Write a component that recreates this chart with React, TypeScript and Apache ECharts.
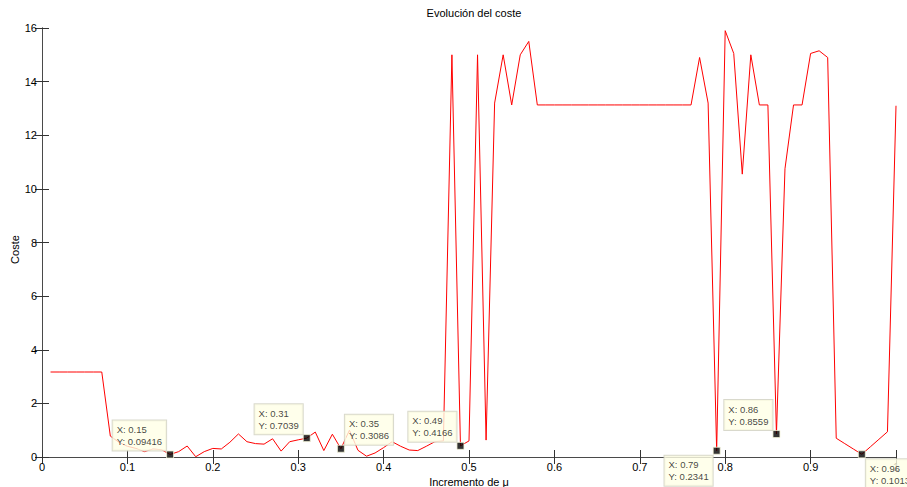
import { useEffect, useRef } from "react";
import * as echarts from "echarts";

// Step of μ (x) and resulting cost (y)
const incrementoMu = [
  0.01, 0.02, 0.03, 0.04, 0.05, 0.06, 0.07, 0.08, 0.09, 0.1,
  0.11, 0.12, 0.13, 0.14, 0.15, 0.16, 0.17, 0.18, 0.19, 0.2,
  0.21, 0.22, 0.23, 0.24, 0.25, 0.26, 0.27, 0.28, 0.29, 0.3,
  0.31, 0.32, 0.33, 0.34, 0.35, 0.36, 0.37, 0.38, 0.39, 0.4,
  0.41, 0.42, 0.43, 0.44, 0.45, 0.46, 0.47, 0.48, 0.49, 0.5,
  0.51, 0.52, 0.53, 0.54, 0.55, 0.56, 0.57, 0.58, 0.59, 0.6,
  0.61, 0.62, 0.63, 0.64, 0.65, 0.66, 0.67, 0.68, 0.69, 0.7,
  0.71, 0.72, 0.73, 0.74, 0.75, 0.76, 0.77, 0.78, 0.79, 0.8,
  0.81, 0.82, 0.83, 0.84, 0.85, 0.86, 0.87, 0.88, 0.89, 0.9,
  0.91, 0.92, 0.93, 0.94, 0.95, 0.96, 0.97, 0.98, 0.99, 1.0,
];

const coste = [
  3.17, 3.17, 3.17, 3.17, 3.17, 3.17, 3.17, 0.78, 0.55, 0.4,
  0.32, 0.2, 0.3, 0.27, 0.09416, 0.2, 0.41, 0.01, 0.2, 0.32,
  0.3, 0.55, 0.86, 0.57, 0.5, 0.48, 0.68, 0.22, 0.57, 0.64,
  0.7039, 0.93, 0.24, 0.85, 0.3086, 1.0, 0.25, 0.03, 0.15, 0.35,
  0.57, 0.4, 0.26, 0.24, 0.4, 0.57, 0.6, 15.0, 0.4166, 0.6,
  15.0, 0.63, 13.2, 15.0, 13.13, 15.0, 15.5, 13.13, 13.13, 13.13,
  13.13, 13.13, 13.13, 13.13, 13.13, 13.13, 13.13, 13.13, 13.13, 13.13,
  13.13, 13.13, 13.13, 13.13, 13.13, 13.13, 14.9, 13.2, 0.2341, 15.9,
  15.05, 10.55, 15.0, 13.13, 13.13, 0.8559, 10.75, 13.13, 13.13, 15.05,
  15.15, 14.9, 0.7, 0.5, 0.3, 0.1013, 0.38, 0.66, 0.94, 13.1,
];

// Data tips (x of the marked points) and the corner their box sits in
const datatipX = [0.15, 0.31, 0.35, 0.49, 0.79, 0.86, 0.96];
const datatipSide = ["nw", "nw", "ne", "nw", "sw", "nw", "se"];

const xTicks = ["0", "0.1", "0.2", "0.3", "0.4", "0.5", "0.6", "0.7", "0.8", "0.9", "1"];
const yTicks = [0, 2, 4, 6, 8, 10, 12, 14, 16];

const FONT = "'Liberation Sans', Arial, Helvetica, sans-serif";
const AXIS_COLOR = "#4a4a4a";

// Data tip box metrics
const TIP_FONT_SIZE = 9.5;
const TIP_LINE_HEIGHT = 12;
const TIP_PAD = [3, 4, 3, 4];
const TIP_GAP = 4;

function measureText(text: string, fontSize: number): number {
  const canvas = document.createElement("canvas");
  const ctx = canvas.getContext("2d");
  if (!ctx) return text.length * fontSize * 0.55;
  ctx.font = `${fontSize}px ${FONT}`;
  return ctx.measureText(text).width;
}

export default function App() {
  const ref = useRef<HTMLDivElement>(null);

  useEffect(() => {
    document.body.style.margin = "0";
    if (!ref.current) return;
    const chart = echarts.init(ref.current, undefined, { renderer: "svg" });

    const lineData = incrementoMu.map((x, i) => [x, coste[i]]);

    const tipData = datatipX.map((tx, k) => {
      const idx = incrementoMu.findIndex((x) => Math.abs(x - tx) < 1e-9);
      const y = coste[idx];
      const lines = [`X: ${tx}`, `Y: ${Number(y.toPrecision(4))}`];
      const textW = Math.max(...lines.map((l) => measureText(l, TIP_FONT_SIZE)));
      const boxW = textW + TIP_PAD[1] + TIP_PAD[3];
      const boxH = TIP_LINE_HEIGHT * lines.length + TIP_PAD[0] + TIP_PAD[2];
      const side = datatipSide[k];
      const dx = side.endsWith("w") ? -TIP_GAP - boxW : TIP_GAP;
      const dy = side.startsWith("n") ? -TIP_GAP - boxH : TIP_GAP + 1;
      return {
        value: [tx, y],
        label: {
          show: true,
          position: "inside",
          align: "left",
          verticalAlign: "top",
          offset: [dx, dy],
          formatter: lines.join("\n"),
        },
      };
    });

    const tickLabel = (v: number) => {
      const s = xTicks.find((t) => Math.abs(parseFloat(t) - v) < 1e-9);
      return s ?? "";
    };

    const baseAxisLine = { show: true, lineStyle: { color: AXIS_COLOR, width: 1 } };
    const baseTick = { show: true, inside: true, length: 7, lineStyle: { color: "#333", width: 1 } };

    chart.setOption({
      animation: false,
      backgroundColor: "#ffffff",
      textStyle: { fontFamily: FONT },
      title: {
        text: "Evolución del coste",
        left: 469,
        top: 2,
        textAlign: "center",
        textStyle: { fontSize: 11, fontWeight: "normal", color: "#000", fontFamily: FONT },
      },
      grid: {
        left: 42,
        right: 11,
        top: 28,
        bottom: 30,
        containLabel: false,
        outerBoundsMode: "none",
      },
      xAxis: [
        {
          type: "value",
          min: 0,
          max: 1,
          interval: 0.1,
          position: "bottom",
          name: "Incremento de μ",
          nameLocation: "middle",
          nameGap: 18,
          nameTextStyle: { fontSize: 11, color: "#000", fontFamily: FONT },
          axisLine: baseAxisLine,
          axisTick: baseTick,
          splitLine: { show: false },
          axisLabel: {
            fontSize: 11,
            color: "#000",
            margin: 4,
            fontFamily: FONT,
            formatter: tickLabel,
          },
        },
        {
          type: "value",
          min: 0,
          max: 1,
          interval: 0.1,
          position: "top",
          axisLine: baseAxisLine,
          axisTick: baseTick,
          splitLine: { show: false },
          axisLabel: { show: false },
        },
      ],
      yAxis: [
        {
          type: "value",
          min: yTicks[0],
          max: yTicks[yTicks.length - 1],
          interval: 2,
          position: "left",
          name: "Coste",
          nameLocation: "middle",
          nameGap: 22,
          nameMoveOverlap: false,
          nameTextStyle: { fontSize: 11, color: "#000", fontFamily: FONT, padding: [0, 14, 0, 0] },
          axisLine: baseAxisLine,
          axisTick: baseTick,
          splitLine: { show: false },
          axisLabel: { fontSize: 11, color: "#000", margin: 5, fontFamily: FONT },
        },
        {
          type: "value",
          min: yTicks[0],
          max: yTicks[yTicks.length - 1],
          interval: 2,
          position: "right",
          axisLine: baseAxisLine,
          axisTick: baseTick,
          splitLine: { show: false },
          axisLabel: { show: false },
        },
      ],
      series: [
        {
          type: "line",
          data: lineData,
          showSymbol: false,
          symbol: "none",
          lineStyle: { color: "#ff0000", width: 1 },
          itemStyle: { color: "#ff0000" },
          z: 2,
        },
        {
          type: "scatter",
          data: tipData,
          symbol: "rect",
          symbolSize: 7,
          itemStyle: { color: "#000", borderColor: "#f4f4d8", borderWidth: 1 },
          label: {
            fontSize: TIP_FONT_SIZE,
            lineHeight: TIP_LINE_HEIGHT,
            color: "#111",
            fontFamily: FONT,
            backgroundColor: "#ffffe6",
            borderColor: "#cfcfbf",
            borderWidth: 1,
            padding: TIP_PAD,
          },
          z: 5,
        },
      ],
    });

    return () => chart.dispose();
  }, []);

  return <div ref={ref} style={{ width: 907, height: 487 }} />;
}
